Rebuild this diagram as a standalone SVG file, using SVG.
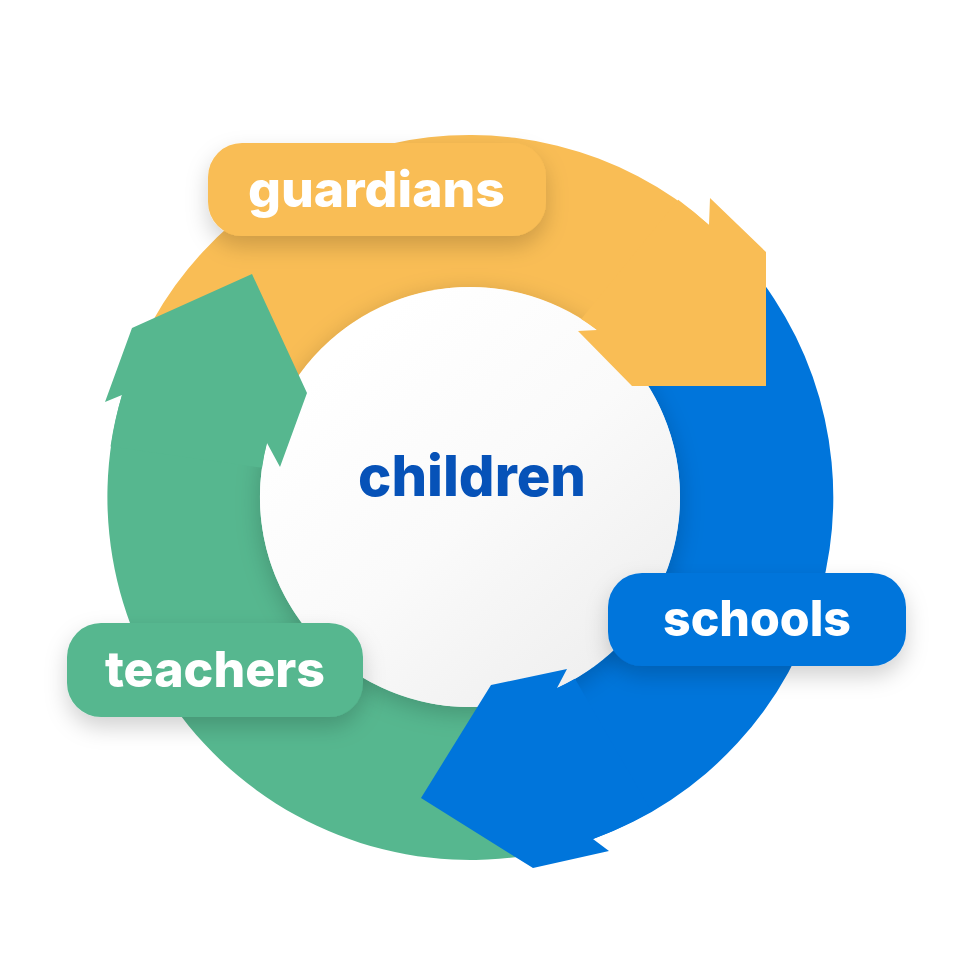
<svg xmlns="http://www.w3.org/2000/svg" width="968" height="979" viewBox="0 0 968 979">
<defs>
<style>
.or{fill:#F9BD55}
.bl{fill:#0075DB}
.gr{fill:#56B78F}
.lbl{font-family:Inter,"Liberation Sans",sans-serif;font-weight:800;font-size:50px;fill:#FFFFFF}
.ctr{font-family:Inter,"Liberation Sans",sans-serif;font-weight:800;font-size:56px;fill:#0652B8}
</style>
<filter id="sh" x="-30%" y="-30%" width="160%" height="180%">
<feDropShadow dx="0" dy="10" stdDeviation="11" flood-color="#000" flood-opacity="0.18"/>
</filter>
<filter id="csh" x="-20%" y="-20%" width="140%" height="140%">
<feDropShadow dx="0" dy="6" stdDeviation="12" flood-color="#000" flood-opacity="0.2"/>
</filter>
<linearGradient id="cg" x1="0.2" y1="0.15" x2="0.85" y2="0.9">
<stop offset="0" stop-color="#FFFFFF"/>
<stop offset="0.5" stop-color="#FAFAFA"/>
<stop offset="1" stop-color="#EFEFEF"/>
</linearGradient>
</defs>
<rect width="968" height="979" fill="#FFFFFF"/>
<g id="connectors">
<g id="bodies">
<path class="or" d="M133.43,361.02 A363,363 0 0 1 709,225 L597,330 A210,210 0 0 0 275.29,418.33 Z"/>
<path class="bl" d="M748.07,263.67 A363,363 0 0 1 593,839 L557,688 A210,210 0 0 0 630.87,362.01 Z"/>
<path class="gr" d="M545.47,852.07 A363,363 0 0 1 122,395 L267,443 A210,210 0 0 0 513.66,702.41 Z"/>
</g>
</g>
<g id="node-children">
<circle cx="470" cy="497" r="210" fill="url(#cg)" filter="url(#csh)"/>
<text class="ctr" x="358" y="496" textLength="228" lengthAdjust="spacingAndGlyphs">children</text>
</g>
<g id="arrowheads">
<path class="or" d="M678.21,199.65 A363,363 0 0 1 709,225 L710,198 L766,252 L766,386 L632,386 L578,331 L597,330 A210,210 0 0 0 581.28,318.91 Z"/>
<path class="bl" d="M651.5,811.37 A363,363 0 0 1 593,839 L609,851 L533,868 L421,798 L491,685 L567,669 L557,688 A210,210 0 0 0 575,678.87 Z"/>
<path class="gr" d="M110.53,446.48 A363,363 0 0 1 122,395 L105,402 L132,328 L252,274 L307,393 L280,467 L267,443 A210,210 0 0 0 262.04,467.77 Z"/>
</g>
<g id="node-guardians">
<rect class="or" x="208" y="143" width="338" height="93" rx="34" filter="url(#sh)"/>
<text class="lbl" x="248" y="207" textLength="257" lengthAdjust="spacingAndGlyphs">guardians</text>
</g>
<g id="node-schools">
<rect class="bl" x="608" y="573" width="298" height="93" rx="34" filter="url(#sh)"/>
<text class="lbl" x="663" y="636" textLength="188" lengthAdjust="spacingAndGlyphs">schools</text>
</g>
<g id="node-teachers">
<rect class="gr" x="67" y="623" width="296" height="94" rx="34" filter="url(#sh)"/>
<text class="lbl" x="105" y="687" textLength="220" lengthAdjust="spacingAndGlyphs">teachers</text>
</g>
</svg>
